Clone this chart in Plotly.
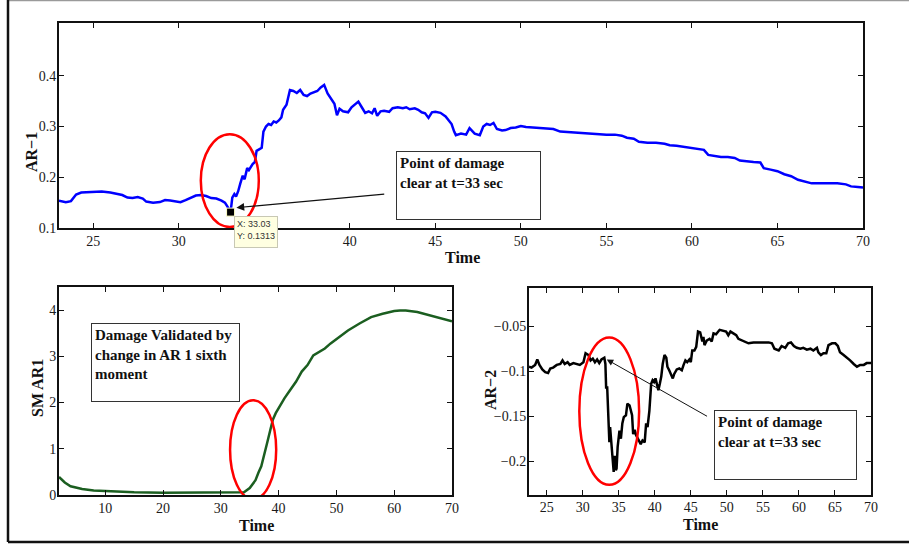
import plotly.graph_objects as go

# ---------------- data ----------------
# AR-1 coefficient over time (top panel)
ar1_time = [23.0, 23.4, 23.7, 24.0, 24.3, 24.7, 25.0, 25.5, 26.0, 26.4, 26.7, 27.0, 27.3, 27.6, 27.9,
            28.1, 28.5, 28.9, 29.2, 29.5, 29.8, 30.1, 30.4, 30.7, 31.0, 31.3, 31.6, 31.9, 32.2, 32.5,
            32.7, 32.85, 33.03, 33.13, 33.25, 33.35, 33.47, 33.6, 33.74, 33.85, 34.0, 34.1, 34.2, 34.32,
            34.45, 34.55, 34.7, 34.85, 34.95, 35.1, 35.25, 35.4, 35.55, 35.7, 35.85, 36.0, 36.1, 36.3,
            36.5, 36.7, 36.9, 37.1, 37.3, 37.5, 37.7, 37.9, 38.1, 38.3, 38.5, 38.7, 38.9, 39.1, 39.25,
            39.4, 39.6, 39.9, 40.1, 40.3, 40.5, 40.7, 40.9, 41.1, 41.3, 41.45, 41.6, 41.8, 42.0, 42.3,
            42.5, 42.8, 43.1, 43.3, 43.5, 43.8, 44.0, 44.2, 44.4, 44.6, 44.8, 45.0, 45.3, 45.6, 45.8,
            45.95, 46.1, 46.2, 46.5, 46.8, 47.0, 47.15, 47.3, 47.6, 47.8, 48.0, 48.2, 48.4, 48.6, 48.9,
            49.1, 49.4, 49.7, 50.0, 50.3, 50.7, 51.1, 51.5, 51.9, 52.3, 52.8, 53.3, 53.8, 54.2, 54.6,
            55.0, 55.5, 55.9, 56.2, 56.6, 56.9, 57.4, 57.9, 58.4, 58.7, 59.1, 59.5, 59.9, 60.3, 60.7,
            60.95, 61.3, 61.7, 62.1, 62.5, 62.8, 63.2, 63.6, 64.0, 64.2, 64.6, 65.0, 65.4, 65.8, 66.2,
            66.6, 67.0, 67.5, 68.0, 68.5, 69.0, 69.3, 69.7, 70.0]
ar1_value = [0.154, 0.151, 0.153, 0.166, 0.170, 0.171, 0.171, 0.172, 0.170, 0.168, 0.165, 0.160, 0.159,
             0.161, 0.158, 0.152, 0.150, 0.151, 0.155, 0.154, 0.152, 0.151, 0.155, 0.160, 0.164, 0.165,
             0.163, 0.159, 0.158, 0.154, 0.150, 0.142, 0.1313, 0.160, 0.167, 0.162, 0.172, 0.188, 0.203,
             0.196, 0.218, 0.214, 0.221, 0.226, 0.230, 0.252, 0.255, 0.258, 0.290, 0.300, 0.305, 0.303,
             0.310, 0.308, 0.312, 0.318, 0.333, 0.343, 0.372, 0.370, 0.366, 0.372, 0.362, 0.360, 0.365,
             0.367, 0.370, 0.377, 0.382, 0.365, 0.356, 0.345, 0.322, 0.335, 0.330, 0.328, 0.338, 0.343,
             0.349, 0.338, 0.327, 0.330, 0.326, 0.336, 0.321, 0.330, 0.331, 0.329, 0.336, 0.338, 0.336,
             0.338, 0.334, 0.336, 0.333, 0.328, 0.326, 0.317, 0.328, 0.329, 0.327, 0.320, 0.312, 0.305,
             0.290, 0.283, 0.286, 0.284, 0.297, 0.292, 0.286, 0.283, 0.300, 0.305, 0.303, 0.307, 0.295,
             0.292, 0.293, 0.297, 0.298, 0.301, 0.299, 0.298, 0.297, 0.296, 0.295, 0.290, 0.289, 0.289,
             0.288, 0.287, 0.285, 0.284, 0.284, 0.282, 0.278, 0.276, 0.270, 0.268, 0.268, 0.266, 0.263,
             0.262, 0.260, 0.258, 0.257, 0.254, 0.244, 0.242, 0.240, 0.240, 0.238, 0.233, 0.231, 0.230,
             0.229, 0.218, 0.215, 0.212, 0.206, 0.202, 0.195, 0.191, 0.188, 0.188, 0.188, 0.188, 0.186,
             0.182, 0.181, 0.180]

# Sixth moment of AR-1 (bottom-left panel)
sm_time = [2, 3, 4, 5, 6, 8, 10, 12, 15, 20, 25, 30, 32, 33, 34, 35, 36, 36.5, 37, 38, 39, 39.5, 40,
           41, 42, 43, 44, 45, 46, 47, 48, 49, 50, 52, 54, 56, 58, 60, 61, 62, 64, 66, 68, 70]
sm_value = [0.39, 0.27, 0.19, 0.16, 0.13, 0.10, 0.086, 0.072, 0.057, 0.05, 0.05, 0.05, 0.05, 0.05,
            0.06, 0.15, 0.32, 0.48, 0.62, 1.12, 1.63, 1.77, 1.88, 2.09, 2.27, 2.45, 2.67, 2.81, 3.02,
            3.10, 3.17, 3.28, 3.38, 3.56, 3.71, 3.85, 3.92, 3.98, 3.99, 3.99, 3.96, 3.89, 3.83, 3.76]

# AR-2 coefficient over time (bottom-right panel)
ar2_time = [22.55, 22.9, 23.4, 23.7, 24.0, 24.4, 24.8, 25.2, 25.5, 25.9, 26.4, 26.9, 27.2, 27.5, 27.9,
            28.2, 28.7, 29.2, 29.6, 30.1, 30.4, 30.8, 31.1, 31.4, 31.7, 32.0, 32.3, 32.6, 33.0, 33.15,
            33.25, 33.4, 33.55, 33.7, 33.8, 34.0, 34.2, 34.3, 34.45, 34.6, 34.7, 34.85, 35.1, 35.3, 35.5,
            35.7, 36.0, 36.2, 36.5, 36.7, 36.85, 37.0, 37.2, 37.4, 37.7, 38.05, 38.3, 38.6, 38.8, 39.0,
            39.25, 39.35, 39.5, 39.7, 39.9, 40.1, 40.3, 40.5, 40.7, 40.9, 41.1, 41.35, 41.6, 41.75, 42.0,
            42.3, 42.5, 42.7, 43.05, 43.4, 43.75, 44.0, 44.25, 44.5, 44.8, 45.0, 45.2, 45.5, 45.75, 46.0,
            46.3, 46.6, 46.75, 46.9, 47.2, 47.6, 47.9, 48.15, 48.5, 49.0, 49.4, 49.9, 50.2, 50.5, 50.9,
            51.3, 51.6, 52.1, 52.5, 53.0, 53.7, 54.4, 55.1, 55.8, 56.25, 56.6, 57.2, 57.6, 58.1, 58.5,
            58.9, 59.3, 59.7, 60.2, 60.6, 61.1, 61.6, 62.0, 62.5, 62.7, 63.05, 63.4, 63.8, 64.1, 64.6,
            65.05, 65.4, 65.7, 66.2, 66.7, 67.1, 67.6, 68.05, 68.5, 69.0, 69.4, 70.0]
ar2_value = [-0.095, -0.096, -0.093, -0.087, -0.093, -0.098, -0.101, -0.102, -0.097, -0.096, -0.093,
             -0.092, -0.088, -0.092, -0.090, -0.093, -0.091, -0.092, -0.093, -0.090, -0.080, -0.082,
             -0.088, -0.086, -0.090, -0.087, -0.091, -0.087, -0.085, -0.092, -0.118, -0.118, -0.144,
             -0.179, -0.162, -0.181, -0.207, -0.212, -0.194, -0.210, -0.208, -0.184, -0.166, -0.175,
             -0.158, -0.151, -0.149, -0.136, -0.138, -0.144, -0.149, -0.170, -0.165, -0.171, -0.175,
             -0.181, -0.177, -0.179, -0.158, -0.162, -0.144, -0.132, -0.114, -0.110, -0.112, -0.108,
             -0.116, -0.121, -0.114, -0.106, -0.092, -0.082, -0.085, -0.095, -0.099, -0.105, -0.108,
             -0.103, -0.098, -0.097, -0.099, -0.093, -0.088, -0.090, -0.087, -0.090, -0.077, -0.077,
             -0.073, -0.056, -0.057, -0.067, -0.062, -0.071, -0.066, -0.064, -0.067, -0.058, -0.059,
             -0.054, -0.055, -0.056, -0.060, -0.056, -0.058, -0.060, -0.064, -0.066, -0.067, -0.069,
             -0.068, -0.068, -0.068, -0.068, -0.069, -0.075, -0.077, -0.072, -0.074, -0.069, -0.068,
             -0.072, -0.074, -0.075, -0.074, -0.076, -0.075, -0.077, -0.074, -0.079, -0.082, -0.080,
             -0.080, -0.071, -0.069, -0.069, -0.072, -0.079, -0.082, -0.085, -0.088, -0.092, -0.095,
             -0.093, -0.093, -0.091, -0.091]

# Data-tip point on the AR-1 curve
tip_t = 33.03
tip_v = 0.1313

# Tick labels (the "35" label of the top panel sits under the data-tip box)
top_xticks = [25, 30, 35, 40, 45, 50, 55, 60, 65, 70]
top_xticktext = ["25", "30", "", "40", "45", "50", "55", "60", "65", "70"]
ar2_xticktext = ["25", "30", "35", "40", "45", "50", "55", "60", "65", "70"]
top_yticks = [0.1, 0.2, 0.3, 0.4]
sm_xticks = [10, 20, 30, 40, 50, 60, 70]
sm_yticks = [0, 1, 2, 3, 4]
ar2_yticks = [-0.2, -0.15, -0.1, -0.05]
ar2_yticktext = ["\u22120.2", "\u22120.15", "\u22120.1", "\u22120.05"]

# ---------------- layout helpers ----------------
W, H = 909, 548


def fx(px):
    return px / W


def fy(py):
    return 1 - py / H


SERIF = "Liberation Serif"
TICK_FONT = dict(family=SERIF, size=14, color="#1a1a1a")

fig = go.Figure()

fig.add_trace(go.Scatter(x=ar1_time, y=ar1_value, mode="lines",
                         line=dict(color="#0000ff", width=2.5), xaxis="x", yaxis="y",
                         showlegend=False, hoverinfo="skip"))
fig.add_trace(go.Scatter(x=[tip_t], y=[tip_v], mode="markers",
                         marker=dict(symbol="square", size=8, color="black",
                                     line=dict(color="#ffffc8", width=1)),
                         xaxis="x", yaxis="y", showlegend=False, hoverinfo="skip"))
fig.add_trace(go.Scatter(x=sm_time, y=sm_value, mode="lines",
                         line=dict(color="#1b5e20", width=2.5), xaxis="x2", yaxis="y2",
                         showlegend=False, hoverinfo="skip"))
fig.add_trace(go.Scatter(x=ar2_time, y=ar2_value, mode="lines",
                         line=dict(color="black", width=2.5), xaxis="x3", yaxis="y3",
                         showlegend=False, hoverinfo="skip"))

axis_common = dict(showline=True, linecolor="#111111", linewidth=2, mirror="ticks",
                   ticks="inside", ticklen=5, tickwidth=1, tickcolor="#111111",
                   showgrid=False, zeroline=False, tickfont=TICK_FONT, automargin=False)
x_common = dict(axis_common, ticklabelstandoff=-1)
y_common = dict(axis_common, ticklabelstandoff=-2)

fig.update_layout(
    width=W, height=H,
    margin=dict(l=0, r=0, t=0, b=0, pad=0, autoexpand=False),
    paper_bgcolor="white", plot_bgcolor="white",
    xaxis=dict(domain=[fx(59), fx(863)], range=[23, 70], tickvals=top_xticks,
               ticktext=top_xticktext, anchor="y", **x_common),
    yaxis=dict(domain=[fy(228), fy(23)], range=[0.1, 0.504], tickvals=top_yticks,
               anchor="x", **y_common),
    xaxis2=dict(domain=[fx(59), fx(452)], range=[2, 70], tickvals=sm_xticks,
                anchor="y2", **x_common),
    yaxis2=dict(domain=[fy(495), fy(287)], range=[0, 4.5], tickvals=sm_yticks,
                anchor="x2", **y_common),
    xaxis3=dict(domain=[fx(529), fx(871)], range=[22.55, 70], tickvals=top_xticks,
                ticktext=ar2_xticktext, anchor="y3", **x_common),
    yaxis3=dict(domain=[fy(494.5), fy(287.5)], range=[-0.237, -0.007], tickvals=ar2_yticks,
                ticktext=ar2_yticktext, anchor="x3", **y_common),
)

# outer frame
shapes = [
    dict(type="line", xref="paper", yref="paper", x0=fx(8), x1=fx(909), y0=fy(0.5), y1=fy(0.5),
         line=dict(color="#9a9a9a", width=1.5)),
    dict(type="line", xref="paper", yref="paper", x0=fx(8), x1=fx(8), y0=fy(0), y1=fy(542),
         line=dict(color="#111111", width=2.5)),
    dict(type="line", xref="paper", yref="paper", x0=fx(8), x1=fx(909), y0=fy(542), y1=fy(542),
         line=dict(color="#111111", width=2.5)),
    # red ellipses around the damage onset
    dict(type="circle", xref="x", yref="y", x0=31.29, x1=34.68, y0=0.102, y1=0.285,
         line=dict(color="#ff0000", width=2.5)),
    dict(type="circle", xref="x2", yref="y2", x0=31.6, x1=39.58, y0=-0.09, y1=2.05,
         line=dict(color="#ff0000", width=2.5)),
    dict(type="circle", xref="x3", yref="y3", x0=29.53, x1=37.83, y0=-0.2263, y1=-0.0626,
         line=dict(color="#ff0000", width=2.5)),
]
fig.update_layout(shapes=shapes)

TITLE_FONT = dict(family=SERIF, size=16, color="#111111")
BOX_FONT = dict(family=SERIF, size=15, color="#111111")


def title(text, cx, cy, angle=0):
    return dict(text=text, x=fx(cx), y=fy(cy), xref="paper", yref="paper",
                xanchor="center", yanchor="middle", showarrow=False,
                font=TITLE_FONT, textangle=angle)


def text_box(text, left, top, w, h):
    return dict(text=text, x=fx(left), y=fy(top), xref="paper", yref="paper",
                xanchor="left", yanchor="top", showarrow=False, align="left", valign="top",
                width=w, height=h, borderpad=3, bordercolor="#333333", borderwidth=1,
                bgcolor="white", font=BOX_FONT)


annotations = [
    # axis titles
    title("<b>Time</b>", 462, 257),
    title("<b>AR\u22121</b>", 31, 152, -90),
    title("<b>Time</b>", 256, 525),
    title("<b>SM AR1</b>", 37, 388, -90),
    title("<b>Time</b>", 700, 524),
    title("<b>AR\u22122</b>", 490, 390, -90),
    # text boxes
    text_box("<b>Point of damage<br>clear at t=33 sec</b>", 396, 151, 137, 61),
    text_box("<b>Damage Validated by<br>change in AR 1 sixth<br>moment</b>", 91, 323, 141, 71),
    text_box("<b>Point of damage<br>clear at t=33 sec</b>", 714, 410, 135, 62),
    # data tip label
    dict(text="X: 33.03<br>Y: 0.1313", x=fx(234), y=fy(216), xref="paper", yref="paper",
         xanchor="left", yanchor="top", showarrow=False, align="left", valign="top",
         width=38, height=26, borderpad=2, bordercolor="#c8c8b4", borderwidth=1,
         bgcolor="#ffffe1", font=dict(family="Liberation Sans", size=9, color="#333333")),
    # arrows
    dict(x=33.37, y=0.140, ax=42.1, ay=0.167, xref="x", yref="y", axref="x", ayref="y",
         text="", showarrow=True, arrowhead=2, arrowsize=1.3, arrowwidth=1.2,
         arrowcolor="#111111"),
    dict(x=33.34, y=-0.087, ax=47.46, ay=-0.151, xref="x3", yref="y3", axref="x3", ayref="y3",
         text="", showarrow=True, arrowhead=2, arrowsize=1.3, arrowwidth=1,
         arrowcolor="#111111"),
]
fig.update_layout(annotations=annotations)

fig.write_html("out.html")
